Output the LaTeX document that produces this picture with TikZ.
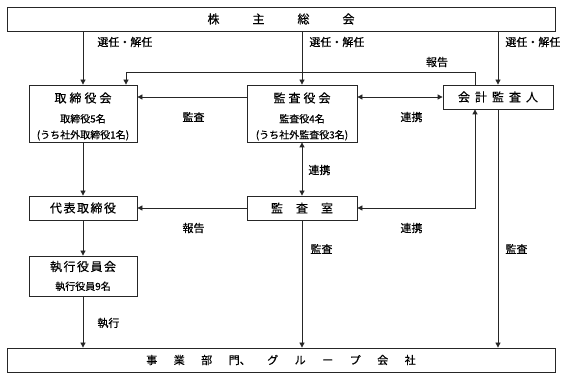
\documentclass[tikz,border=0pt]{standalone}
\usepackage{fontspec}
\setmainfont{Noto Sans CJK JP}[FakeBold=0.4]
\usetikzlibrary{arrows.meta}

\begin{document}
\begin{tikzpicture}[x=1pt, y=-1pt, >={Triangle[length=5pt,width=5pt]}, line width=0.8pt,
    box/.style={draw=black!85, rectangle, inner sep=0pt, align=center, font=\fontsize{10}{16}\selectfont},
    lbl/.style={inner sep=0pt, font=\fontsize{11}{13}\selectfont}]
\useasboundingbox (0,0) rectangle (566,379);

% Shareholders' meeting and business units
\node[box, minimum width=548pt, minimum height=24pt] (soukai) at (281,19)
    {\fontsize{12}{14}\selectfont 株\hspace{33pt}主\hspace{33pt}総\hspace{33pt}会};
\node[box, minimum width=548pt, minimum height=24pt] (jigyo) at (281,360)
    {\fontsize{11}{13}\selectfont 事\hspace{16.5pt}業\hspace{16.5pt}部\hspace{16.5pt}門、\hspace{16.5pt}グ\hspace{16.5pt}ル\hspace{16.5pt}ー\hspace{16.5pt}プ\hspace{16.5pt}会\hspace{16.5pt}社};

% Boards
\node[box, minimum width=108pt, minimum height=57pt] (torikai) at (83,113.5)
    {{\fontsize{12}{14}\selectfont\rule{0pt}{16pt}取\hspace{3pt}締\hspace{3pt}役\hspace{3pt}会}\\[4pt]取締役5名\\(うち社外取締役1名)};
\node[box, minimum width=110pt, minimum height=57pt] (kansayaku) at (302,113.5)
    {{\fontsize{12}{14}\selectfont\rule{0pt}{16pt}監\hspace{3pt}査\hspace{3pt}役\hspace{3pt}会}\\[4pt]監査役4名\\(うち社外監査役3名)};
\node[box, minimum width=110pt, minimum height=24pt] (kaikei) at (498,97)
    {\fontsize{12}{14}\selectfont 会\hspace{5pt}計\hspace{5pt}監\hspace{5pt}査\hspace{5pt}人};

% Executive side
\node[box, minimum width=108pt, minimum height=24pt] (daihyo) at (83,208)
    {\fontsize{12}{14}\selectfont 代\hspace{1.5pt}表\hspace{1.5pt}取\hspace{1.5pt}締\hspace{1.5pt}役};
\node[box, minimum width=110pt, minimum height=24pt] (kansashitsu) at (302,208)
    {\fontsize{12}{14}\selectfont 監\hspace{13pt}査\hspace{13pt}室};
\node[box, minimum width=108pt, minimum height=40pt] (shikko) at (83,276)
    {{\fontsize{12}{14}\selectfont 執\hspace{1.5pt}行\hspace{1.5pt}役\hspace{1.5pt}員\hspace{1.5pt}会}\\[3pt]執行役員9名};

% Appointment and dismissal
\foreach \n in {torikai, kansayaku, kaikei} {
    \draw[->, black!85] (soukai.south -| \n.north) -- (\n.north);
}
\node[lbl, anchor=west] (sen1) at (97,42) {選任・解任};
\node[lbl, anchor=west] (sen2) at (309,42) {選任・解任};
\node[lbl, anchor=west] (sen3) at (505,42) {選任・解任};

% Reports and audits
\draw[->, black!85] ([xshift=-23pt]kaikei.north) -- ++(0,-12) -| ([xshift=43pt]torikai.north);
\node[lbl] (hokoku1) at (437,62) {報告};
\draw[->, black!85] (kansayaku.west |- kaikei.west) -- (torikai.east |- kaikei.west);
\draw[<->, black!85] (kansayaku.east |- kaikei.west) -- (kaikei.west);
\node[lbl] (kansa1) at (193.5,117) {監査};
\node[lbl] (renkei1) at (411.5,117) {連携};

\draw[->, black!85] (torikai.south) -- (daihyo.north);
\draw[<->, black!85] (kansayaku.south) -- (kansashitsu.north);
\node[lbl, anchor=west] (renkei2) at (308,170) {連携};
\draw[->, black!85] (kansashitsu.west) -- (daihyo.east);
\node[lbl] (hokoku2) at (193.5,228) {報告};
\draw[<->, black!85] ([xshift=-23pt]kaikei.south) |- (kansashitsu.east);
\node[lbl] (renkei3) at (411.5,228) {連携};

% Execution down to the business units
\draw[->, black!85] (daihyo.south) -- (shikko.north);
\foreach \n in {shikko, kansashitsu, kaikei} {
    \draw[->, black!85] (\n.south) -- (jigyo.north -| \n.south);
}
\node[lbl, anchor=west] (shikko2) at (97,323) {執行};
\node[lbl, anchor=west] (kansa2) at (310,249) {監査};
\node[lbl, anchor=west] (kansa3) at (505,249) {監査};

\end{tikzpicture}
\end{document}
